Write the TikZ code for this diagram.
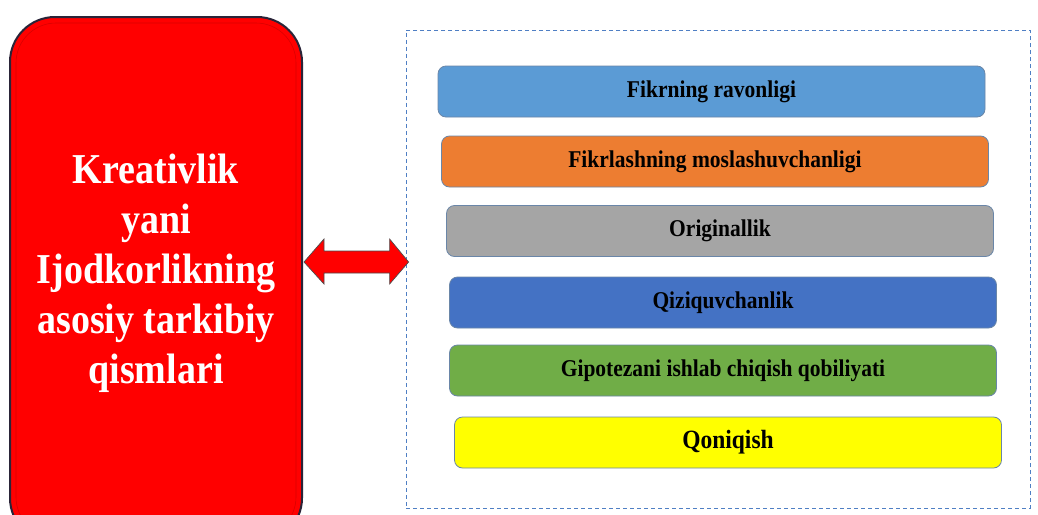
\documentclass[tikz,border=0pt]{standalone}
\usepackage{fontspec}
\setmainfont{Liberation Serif}
\usetikzlibrary{calc}
\definecolor{cblue}{HTML}{5B9BD5}
\definecolor{corange}{HTML}{ED7D31}
\definecolor{cgray}{HTML}{A5A5A5}
\definecolor{cdblue}{HTML}{4472C4}
\definecolor{cgreen}{HTML}{70AD47}
\definecolor{cyellow}{HTML}{FFFF00}
\definecolor{cred}{HTML}{FF0000}
\definecolor{cedge}{HTML}{6A86A8}
\definecolor{cdash}{HTML}{4F7FC4}
\definecolor{credge}{HTML}{2A2438}
\newcommand{\vstretch}[1]{\scalebox{1}[1.12]{#1}}
\tikzset{
  redbox/.style={draw=credge, line width=2pt, fill=cred, rounded corners=45pt,
    minimum width=292pt, minimum height=526pt, inner sep=0pt},
  titletext/.style={text=white, align=center, inner sep=0pt,
    font=\bfseries\fontsize{38}{50}\selectfont},
  groupbox/.style={draw=cdash, dashed, dash pattern=on 4pt off 3pt, line width=0.8pt,
    minimum width=624pt, minimum height=478pt, inner sep=0pt},
  itembox/.style={draw=cedge, line width=0.8pt, rounded corners=8pt,
    minimum width=547pt, minimum height=51pt, inner sep=0pt, text=black,
    font=\bfseries\fontsize{21.5}{24}\selectfont},
  bigarrow/.style={fill=cred, draw=gray!60!black, line width=0.7pt, line join=miter}
}
\begin{document}
\begin{tikzpicture}[x=1pt,y=-1pt]
\useasboundingbox (0,0) rectangle (1038,514);
\clip (0,0) rectangle (1038,514);
\fill[white] (0,0) rectangle (1038,514);

% left red box
\node[redbox] (main) at (156,280) {};
\draw[red!75!black, line width=0.6pt, opacity=0.6, rounded corners=40pt]
  ($(main.north west)+(7,7)$) rectangle ($(main.south east)+(-7,-7)$);
\node[titletext] (title) at (156,273)
  {\vstretch{Kreativlik}\\ \vstretch{yani}\\ \vstretch{Ijodkorlikning}\\ \vstretch{asosiy tarkibiy}\\ \vstretch{qismlari}};

% right dashed group
\node[groupbox] (grp) at (718,269) {};

\node[itembox, fill=cblue]   (b1) at (711.5,91.5)  {\vstretch{Fikrning ravonligi}};
\node[itembox, fill=corange] (b2) at (715,161.5)   {\vstretch{Fikrlashning moslashuvchanligi}};
\node[itembox, fill=cgray]   (b3) at (720,231)     {\vstretch{Originallik}};
\node[itembox, fill=cdblue]  (b4) at (723,302.5)   {\vstretch{Qiziquvchanlik}};
\node[itembox, fill=cgreen]  (b5) at (723,370.5)   {\vstretch{Gipotezani ishlab chiqish qobiliyati}};
\node[itembox, fill=cyellow, font=\bfseries\fontsize{23.5}{26}\selectfont] (b6) at (728,442.5) {\vstretch{Qoniqish}};

% double arrow
\coordinate (mid) at (0,262);
\coordinate (L) at ($(main.east |- mid)+(1,0)$);
\coordinate (R) at ($(grp.west |- mid)+(3,0)$);
\draw[bigarrow] (L) -- ($(L)+(20,-23)$) -- ($(L)+(20,-11)$) -- ($(R)+(-19,-11)$)
  -- ($(R)+(-19,-23)$) -- (R) -- ($(R)+(-19,22)$) -- ($(R)+(-19,11)$)
  -- ($(L)+(20,11)$) -- ($(L)+(20,22)$) -- cycle;
\end{tikzpicture}
\end{document}
